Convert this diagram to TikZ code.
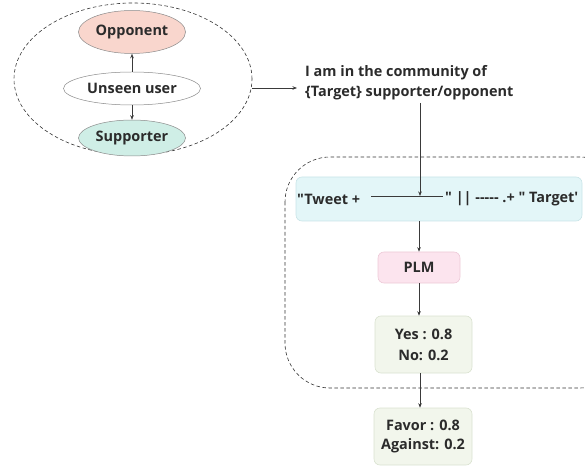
\documentclass[tikz,border=0pt]{standalone}
\usepackage{fontspec}
\setmainfont{Open Sans}[Ligatures=TeXOff]
\usetikzlibrary{shapes.geometric,arrows.meta}
\definecolor{txt}{HTML}{2B2B2B}
\definecolor{oppfill}{HTML}{F9D6CD}
\definecolor{oppline}{HTML}{8A8A8A}
\definecolor{supfill}{HTML}{CFEEE6}
\definecolor{twfill}{HTML}{E3F6F8}
\definecolor{twline}{HTML}{C9E4E7}
\definecolor{plmfill}{HTML}{FCE4EE}
\definecolor{plmline}{HTML}{EDC9D7}
\definecolor{resfill}{HTML}{F2F6EC}
\definecolor{resline}{HTML}{D9E2D0}
\definecolor{arr}{HTML}{3A3A3A}
\begin{document}
\begin{tikzpicture}[x=1bp,y=-1bp,
  every node/.style={font=\fontsize{14.5}{20}\selectfont\bfseries, text=txt, inner sep=0pt},
  oval/.style={ellipse, draw=oppline, line width=0.5pt},
  rbox/.style={rounded corners=6bp, line width=0.6pt, align=center},
  conn/.style={draw=arr, line width=0.6pt, -{Stealth[length=4.5bp,width=3.5bp]}},
  grpline/.style={draw=black!80, line width=0.6pt, dash pattern=on 3.5bp off 2.5bp}]
\useasboundingbox (0,0) rectangle (585,468);
\clip (0,0) rectangle (585,468);
% left group
\node[ellipse, grpline, minimum width=238bp, minimum height=152bp] (grp) at (133,79) {};
\node[oval, fill=oppfill, minimum width=107bp, minimum height=43bp] (opp) at (132,32) {Opponent};
\node[oval, fill=white, minimum width=137bp, minimum height=33bp] (uns) at (132,88.5) {Unseen user};
\node[oval, fill=supfill, minimum width=107bp, minimum height=36bp] (sup) at (132,138) {Supporter};
\draw[conn, line width=0.4pt] (uns) -- (opp);
\draw[conn, line width=0.4pt] (uns) -- (sup);
% community text
\coordinate (c1) at (297,88);
\draw[conn] (grp.east |- c1) -- (c1);
\node[anchor=north west, align=left] (comm) at (305,65) {I am in the community of\\\{Target\} supporter/opponent};
% right group
\draw[grpline, rounded corners=45bp] (285,157) rectangle (625,388);
\node[rbox, draw=twline, fill=twfill, minimum width=286bp, minimum height=44bp] (tw) at (439,199) {};
\node[anchor=west] (tl) at (297,199) {"Tweet +};
\coordinate (la) at (371,196);
\coordinate (lb) at (443,196);
\coordinate (lm) at (420,196);
\draw[arr, line width=0.6pt] (la) -- (lb);
\node[anchor=west] (tr) at (445,199) {" || ----- .+ " Target\textquotesingle};
\draw[conn] (lm |- comm.south) ++(0,3) -- (lm);
\node[rbox, draw=plmline, fill=plmfill, minimum width=82bp, minimum height=31bp] (plm) at (419,267.5) {PLM};
\node[rbox, draw=resline, fill=resfill, minimum width=97bp, minimum height=57bp] (yes) at (423.5,344.5) {Yes : 0.8\\[1bp]No: 0.2};
\node[rbox, draw=resline, fill=resfill, minimum width=98bp, minimum height=57bp] (fav) at (423,436.5) {Favor : 0.8\\Against: 0.2};
\draw[conn] (tw.south -| plm) -- (plm.north);
\draw[conn] (plm.south) -- (plm.south |- yes.north);
\draw[conn] (yes.south -| 420,0) -- (fav.north -| 420,0);
\end{tikzpicture}
\end{document}
